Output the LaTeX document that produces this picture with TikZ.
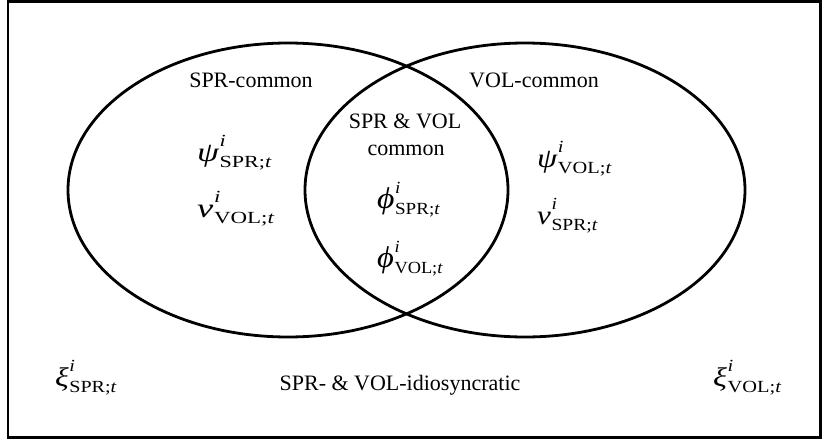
\documentclass[tikz,border=0pt]{standalone}
\usepackage{fontspec}
\usepackage{graphicx}
\setmainfont{Liberation Serif}

% Indexed variable: Greek letter with superscript i and subscript "<series>;t"
% #1 horizontal stretch, #2 letter size, #3 letter, #4 series
\newcommand{\varsym}[4][1.3]{%
  \scalebox{#1}[1]{%
    {\fontsize{#2}{#2}\selectfont\itshape #3}\kern0.5pt%
    \rlap{\raisebox{15pt}{\fontsize{17}{17}\selectfont\itshape i}}%
    \raisebox{-6pt}{\fontsize{17}{17}\selectfont #4;\textit{t}}}}

\tikzset{
  frame/.style={line width=2.2pt},
  setline/.style={line width=2.8pt},
  label/.style={font=\fontsize{22}{22}\selectfont, inner sep=0pt, anchor=base},
  var/.style={inner sep=0pt, anchor=base west}
}

\begin{document}
\begin{tikzpicture}[x=1pt, y=-1pt]
  \useasboundingbox (0,0) rectangle (822,442);
  \draw[frame] (8,1.5) rectangle (820.5,437.5);

  % the two sets
  \draw[setline] (288,190) ellipse [x radius=220, y radius=147];
  \draw[setline] (525,190) ellipse [x radius=220, y radius=147];

  % region labels
  \node[label] (sprc) at (251,87) {SPR-common};
  \node[label] (volc) at (534,87) {VOL-common};
  \node[label] (both1) at (405,128) {SPR \& VOL};
  \node[label] (both2) at (406,155) {common};
  \node[label] (idio) at (400,390) {SPR- \& VOL-idiosyncratic};

  % variables
  \node[var] (psispr) at (197,161) {\varsym[1.3]{27}{ψ}{SPR}};
  \node[var] (nuvol)  at (197,217) {\varsym[1.35]{27}{ν}{VOL}};
  \node[var] (phispr) at (377,208) {\varsym[1.12]{30}{ϕ}{SPR}};
  \node[var] (phivol) at (377,267) {\varsym[1.08]{30}{ϕ}{VOL}};
  \node[var] (psivol) at (537,167) {\varsym[1.2]{27}{ψ}{VOL}};
  \node[var] (nuspr)  at (537,224) {\varsym[1.15]{27}{ν}{SPR}};
  \node[var] (xispr)  at (55,386)  {\varsym[1.18]{27}{ξ}{SPR}};
  \node[var] (xivol)  at (713,386) {\varsym[1.2]{27}{ξ}{VOL}};
\end{tikzpicture}
\end{document}
